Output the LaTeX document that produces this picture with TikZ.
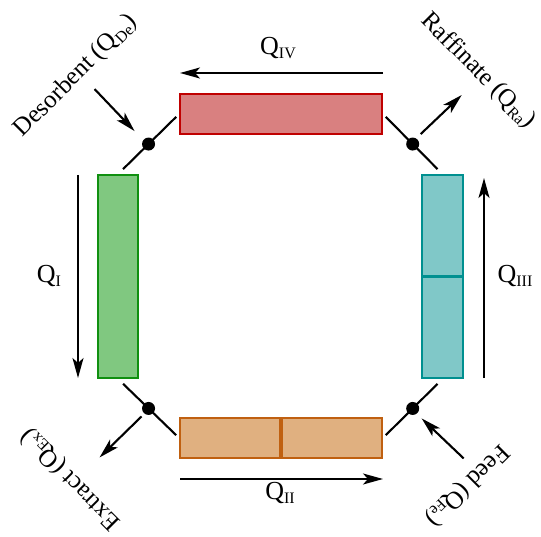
\documentclass[tikz,border=0pt]{standalone}
\usepackage{fontspec}
\setmainfont{Liberation Serif}
\usetikzlibrary{arrows.meta,calc}
\definecolor{redfill}{HTML}{D98080}
\definecolor{redline}{HTML}{C00000}
\definecolor{greenfill}{HTML}{80C880}
\definecolor{greenline}{HTML}{109010}
\definecolor{tealfill}{HTML}{80C8C8}
\definecolor{tealline}{HTML}{009090}
\definecolor{orangefill}{HTML}{E0B080}
\definecolor{orangeline}{HTML}{C06010}
\newcommand{\mysub}[1]{\raisebox{-0.35ex}{\fontsize{16}{16}\selectfont #1}}
\tikzset{
  column/.style={draw, line width=1.8pt, inner sep=0pt},
  hcol/.style={column, minimum width=202pt, minimum height=40pt},
  vcol/.style={column, minimum width=40pt, minimum height=203pt},
  dot/.style={circle, fill=black, inner sep=0pt, minimum size=13pt},
  flow/.style={line width=2.1pt, -{Stealth[length=20pt,width=11pt,inset=5pt]}},
  link/.style={line width=2.1pt},
  qlabel/.style={font=\fontsize{26}{28}\selectfont, inner sep=0pt},
  portlabel/.style={font=\fontsize{25}{28}\selectfont, inner sep=0pt},
}
\begin{document}
\begin{tikzpicture}[x=1pt,y=-1pt]
\useasboundingbox (0,0) rectangle (541,537);
% columns
\node[hcol, fill=redfill, draw=redline] (red) at (281,114) {};
\node[vcol, fill=greenfill, draw=greenline] (green) at (118,276.5) {};
\node[vcol, fill=tealfill, draw=tealline, minimum width=41pt] (teal) at (442.5,276.5) {};
\node[hcol, fill=orangefill, draw=orangeline] (orange) at (281,438) {};
\draw[tealline, line width=3.8pt] (teal.west) -- (teal.east);
\draw[orangeline, line width=3.8pt] (orange.north) -- (orange.south);
% junctions
\node[dot] (jtl) at ($(green.north)!0.5!(red.west)$) {};
\node[dot] (jtr) at ($(red.east)!0.5!(teal.north)$) {};
\node[dot] (jbl) at ($(green.south)!0.5!(orange.west)$) {};
\node[dot] (jbr) at ($(orange.east)!0.5!(teal.south)$) {};
\draw[link, shorten <=7pt] (green.north) -- (jtl.center);
\draw[link, shorten >=4pt] (jtl.center) -- (red.west);
\draw[link, shorten <=4pt] (red.east) -- (jtr.center);
\draw[link, shorten >=7pt] (jtr.center) -- (teal.north);
\draw[link, shorten <=7pt] (green.south) -- (jbl.center);
\draw[link, shorten >=4pt] (jbl.center) -- (orange.west);
\draw[link, shorten <=4pt] (orange.east) -- (jbr.center);
\draw[link, shorten >=7pt] (jbr.center) -- (teal.south);
% port arrows
\coordinate (deS) at ($(jtl)+(-54,-55)$);
\coordinate (deE) at ($(jtl)+(-14,-13)$);
\coordinate (raS) at ($(jtr)+(8,-10)$);
\coordinate (raE) at ($(jtr)+(49,-49)$);
\coordinate (exS) at ($(jbl)+(-7,8)$);
\coordinate (exE) at ($(jbl)+(-49,49)$);
\coordinate (feS) at ($(jbr)+(51,50)$);
\coordinate (feE) at ($(jbr)+(9,10)$);
\draw[flow] (deS) -- (deE);
\draw[flow] (raS) -- (raE);
\draw[flow] (exS) -- (exE);
\draw[flow] (feS) -- (feE);
\node[portlabel, rotate=45] (lde) at (76,76) {Desorbent (Q\mysub{De})};
\node[portlabel, rotate=-45] (lra) at (478,71) {Raffinate (Q\mysub{Ra})};
\node[portlabel, rotate=135] (lex) at (71,479) {Extract (Q\mysub{Ex})};
\node[portlabel, rotate=-135] (lfe) at (467,485) {Feed (Q\mysub{Fe})};
% flow arrows
\coordinate (q4s) at (383,73);
\coordinate (q4e) at (180,73);
\coordinate (q1s) at (78,175);
\coordinate (q1e) at (78,378);
\coordinate (q3s) at (484,378);
\coordinate (q3e) at (484,178);
\coordinate (q2s) at (180,479);
\coordinate (q2e) at (383,479);
\draw[flow] (q4s) -- (q4e);
\draw[flow] (q1s) -- (q1e);
\draw[flow] (q3s) -- (q3e);
\draw[flow] (q2s) -- (q2e);
\node[qlabel] (lq4) at (278,48) {Q\mysub{IV}};
\node[qlabel] (lq1) at (49,276) {Q\mysub{I}};
\node[qlabel] (lq3) at (515,276) {Q\mysub{III}};
\node[qlabel] (lq2) at (280,493) {Q\mysub{II}};
\end{tikzpicture}
\end{document}
